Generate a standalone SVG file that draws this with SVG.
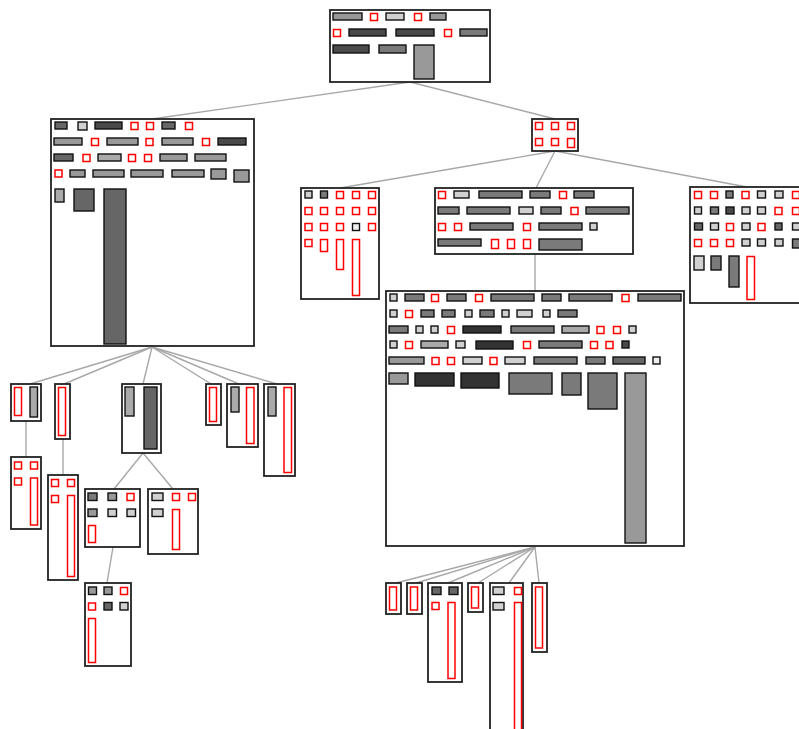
<svg xmlns="http://www.w3.org/2000/svg" width="799" height="729" viewBox="0 0 799 729">
<style>
.box{fill:#fff;stroke:#222;stroke-width:1.8}
.r{fill:#fff;stroke:#f00;stroke-width:1.5}
rect.i{stroke:#111;stroke-width:1.4}
.c line{stroke:#a8a8a8;stroke-width:1.4}
.l{fill:#d0d0d0}.e{fill:#eee}.ml{fill:#aaa}.g{fill:#999}.m{fill:#7a7a7a}.md{fill:#666}.d{fill:#4a4a4a}.dd{fill:#333}
</style>
<rect width="799" height="729" fill="#fff"/>
<g id="connectors" class="c">
<line x1="410" y1="82" x2="152" y2="119"/>
<line x1="410" y1="82" x2="555" y2="119"/>
<line x1="555" y1="151" x2="340" y2="188"/>
<line x1="555" y1="151" x2="536" y2="188"/>
<line x1="555" y1="151" x2="747" y2="187"/>
<line x1="535" y1="254" x2="535" y2="291"/>
<line x1="152" y1="347" x2="30" y2="384"/>
<line x1="152" y1="347" x2="64" y2="384"/>
<line x1="152" y1="347" x2="143" y2="384"/>
<line x1="152" y1="347" x2="211" y2="384"/>
<line x1="152" y1="347" x2="239" y2="384"/>
<line x1="152" y1="347" x2="277" y2="384"/>
<line x1="26" y1="421" x2="26" y2="457"/>
<line x1="63" y1="439" x2="63" y2="475"/>
<line x1="143" y1="453" x2="114" y2="489"/>
<line x1="143" y1="453" x2="173" y2="489"/>
<line x1="113" y1="547" x2="107" y2="583"/>
<line x1="535" y1="547" x2="396" y2="583"/>
<line x1="535" y1="547" x2="416" y2="583"/>
<line x1="535" y1="547" x2="448" y2="583"/>
<line x1="535" y1="547" x2="478" y2="583"/>
<line x1="535" y1="547" x2="509" y2="583"/>
<line x1="535" y1="547" x2="539" y2="583"/>
</g>
<g id="n0">
<rect class="box" x="330" y="10" width="160" height="72"/>
<rect class="i g" x="333" y="13" width="29" height="7"/>
<rect class="r" x="370.5" y="13.5" width="7" height="7"/>
<rect class="i l" x="386" y="13" width="18" height="7"/>
<rect class="r" x="414.5" y="13.5" width="7" height="7"/>
<rect class="i g" x="430" y="13" width="16" height="7"/>
<rect class="r" x="333.5" y="29.5" width="7" height="7"/>
<rect class="i d" x="349" y="29" width="37" height="7"/>
<rect class="i d" x="396" y="29" width="38" height="7"/>
<rect class="r" x="444.5" y="29.5" width="7" height="7"/>
<rect class="i m" x="460" y="29" width="27" height="7"/>
<rect class="i d" x="333" y="45" width="36" height="8"/>
<rect class="i m" x="379" y="45" width="27" height="8"/>
<rect class="i g" x="414" y="45" width="20" height="34"/>
</g>
<g id="n1">
<rect class="box" x="51" y="119" width="203" height="227"/>
<rect class="i md" x="55" y="122" width="12" height="7"/>
<rect class="i l" x="78" y="122" width="9" height="8"/>
<rect class="i d" x="95" y="122" width="27" height="7"/>
<rect class="r" x="131" y="122.5" width="7" height="7"/>
<rect class="r" x="146.5" y="122.5" width="7" height="7"/>
<rect class="i md" x="162" y="122" width="13" height="7"/>
<rect class="r" x="185.5" y="122.5" width="7" height="7"/>
<rect class="i g" x="54" y="138" width="28" height="7"/>
<rect class="r" x="91.5" y="138.5" width="7" height="7"/>
<rect class="i g" x="107" y="138" width="31" height="7"/>
<rect class="r" x="146" y="138.5" width="7" height="7"/>
<rect class="i g" x="162" y="138" width="31" height="7"/>
<rect class="r" x="202.5" y="138.5" width="7" height="7"/>
<rect class="i d" x="218" y="138" width="28" height="7"/>
<rect class="i md" x="54" y="154" width="19" height="7"/>
<rect class="r" x="83" y="154.5" width="7" height="7"/>
<rect class="i ml" x="98" y="154" width="23" height="7"/>
<rect class="r" x="128.5" y="154.5" width="7" height="7"/>
<rect class="r" x="144.5" y="154.5" width="7" height="7"/>
<rect class="i g" x="160" y="154" width="27" height="7"/>
<rect class="i g" x="195" y="154" width="31" height="7"/>
<rect class="r" x="55" y="170" width="7" height="7"/>
<rect class="i g" x="70" y="170" width="15" height="7"/>
<rect class="i g" x="93" y="170" width="31" height="7"/>
<rect class="i g" x="131" y="170" width="32" height="7"/>
<rect class="i g" x="172" y="170" width="32" height="7"/>
<rect class="i g" x="211" y="169" width="15" height="10"/>
<rect class="i g" x="234" y="170" width="15" height="12"/>
<rect class="i ml" x="55" y="189" width="9" height="13"/>
<rect class="i md" x="74" y="189" width="20" height="22"/>
<rect class="i md" x="104" y="189" width="22" height="155"/>
</g>
<g id="n2">
<rect class="box" x="532" y="119" width="46" height="32"/>
<rect class="r" x="535.5" y="122.5" width="7" height="7"/>
<rect class="r" x="551.5" y="122.5" width="7" height="7"/>
<rect class="r" x="567.5" y="122.5" width="7" height="7"/>
<rect class="r" x="535.5" y="138.5" width="7" height="7"/>
<rect class="r" x="551.5" y="138.5" width="7" height="7"/>
<rect class="r" x="567.5" y="138.5" width="7" height="9"/>
</g>
<g id="n3">
<rect class="box" x="301" y="188" width="78" height="111"/>
<rect class="i l" x="305" y="191" width="7" height="7"/>
<rect class="i m" x="320.5" y="191" width="7" height="7"/>
<rect class="r" x="336.5" y="191.5" width="7" height="7"/>
<rect class="r" x="352.5" y="191.5" width="7" height="7"/>
<rect class="r" x="368.5" y="191.5" width="7" height="7"/>
<rect class="r" x="305" y="207.5" width="7" height="7"/>
<rect class="r" x="320.5" y="207.5" width="7" height="7"/>
<rect class="r" x="336.5" y="207.5" width="7" height="7"/>
<rect class="r" x="352.5" y="207.5" width="7" height="7"/>
<rect class="r" x="368.5" y="207.5" width="7" height="7"/>
<rect class="r" x="305" y="223.5" width="7" height="7"/>
<rect class="r" x="320.5" y="223.5" width="7" height="7"/>
<rect class="r" x="336.5" y="223.5" width="7" height="7"/>
<rect class="i e" x="352.5" y="223.5" width="7" height="7"/>
<rect class="r" x="368.5" y="223.5" width="7" height="7"/>
<rect class="r" x="305" y="239.5" width="7" height="7"/>
<rect class="r" x="320.5" y="239.5" width="7" height="12"/>
<rect class="r" x="336.5" y="239.5" width="7" height="30"/>
<rect class="r" x="352.5" y="239.5" width="7" height="56"/>
</g>
<g id="n4">
<rect class="box" x="435" y="188" width="198" height="66"/>
<rect class="r" x="438.5" y="191.5" width="7" height="7"/>
<rect class="i l" x="454" y="191" width="15" height="7"/>
<rect class="i m" x="479" y="191" width="43" height="7"/>
<rect class="i m" x="530" y="191" width="20" height="7"/>
<rect class="r" x="559.5" y="191.5" width="7" height="7"/>
<rect class="i m" x="574" y="191" width="20" height="7"/>
<rect class="i m" x="438" y="207" width="21" height="7"/>
<rect class="i m" x="467" y="207" width="43" height="7"/>
<rect class="i l" x="519" y="207" width="14" height="7"/>
<rect class="i m" x="541" y="207" width="20" height="7"/>
<rect class="r" x="571" y="207.5" width="7" height="7"/>
<rect class="i m" x="586" y="207" width="43" height="7"/>
<rect class="r" x="438.5" y="223.5" width="7" height="7"/>
<rect class="r" x="454.5" y="223.5" width="7" height="7"/>
<rect class="i m" x="470" y="223" width="43" height="7"/>
<rect class="r" x="523.5" y="223.5" width="7" height="7"/>
<rect class="i m" x="539" y="223" width="43" height="7"/>
<rect class="i l" x="590" y="223" width="7" height="7"/>
<rect class="i m" x="438" y="239" width="43" height="7"/>
<rect class="r" x="491.5" y="239.5" width="7" height="9"/>
<rect class="r" x="507.5" y="239.5" width="7" height="9"/>
<rect class="r" x="523.5" y="239.5" width="7" height="9"/>
<rect class="i m" x="539" y="239" width="43" height="11"/>
</g>
<g id="n5">
<rect class="box" x="690" y="187" width="114" height="116"/>
<rect class="r" x="694.5" y="191.5" width="7" height="7"/>
<rect class="r" x="710.5" y="191.5" width="7" height="7"/>
<rect class="i m" x="726" y="191" width="7" height="7"/>
<rect class="r" x="742" y="191.5" width="7" height="7"/>
<rect class="i l" x="757.5" y="191" width="8" height="7"/>
<rect class="i l" x="775" y="191" width="8" height="7"/>
<rect class="r" x="792.5" y="191.5" width="7" height="7"/>
<rect class="i l" x="694.5" y="207" width="7" height="7"/>
<rect class="i m" x="710.5" y="207" width="8" height="7"/>
<rect class="i d" x="726" y="207" width="8" height="7"/>
<rect class="i l" x="742" y="207" width="8" height="7"/>
<rect class="i l" x="757.5" y="207" width="8" height="7"/>
<rect class="r" x="775" y="207.5" width="7" height="7"/>
<rect class="r" x="792.5" y="207.5" width="7" height="7"/>
<rect class="i md" x="694.5" y="223" width="8" height="7"/>
<rect class="i l" x="710.5" y="223" width="8" height="7"/>
<rect class="r" x="726.5" y="223.5" width="7" height="7"/>
<rect class="i l" x="742" y="223" width="8" height="7"/>
<rect class="r" x="758" y="223.5" width="7" height="7"/>
<rect class="i md" x="775" y="223" width="7" height="7"/>
<rect class="i l" x="792.5" y="223" width="8" height="7"/>
<rect class="r" x="694.5" y="239.5" width="7" height="7"/>
<rect class="r" x="710.5" y="239.5" width="7" height="7"/>
<rect class="r" x="726.5" y="239.5" width="7" height="7"/>
<rect class="i l" x="742" y="239" width="8" height="7"/>
<rect class="i l" x="757.5" y="239" width="8" height="7"/>
<rect class="i l" x="775" y="239" width="8" height="7"/>
<rect class="i m" x="792.5" y="239" width="8" height="9"/>
<rect class="i l" x="694" y="256" width="10" height="14"/>
<rect class="i m" x="711" y="256" width="10" height="14"/>
<rect class="i m" x="729" y="256" width="10" height="31"/>
<rect class="r" x="747" y="256.5" width="7.5" height="43"/>
</g>
<g id="n6">
<rect class="box" x="386" y="291" width="298" height="255"/>
<rect class="i l" x="390" y="294" width="7" height="7"/>
<rect class="i m" x="405" y="294" width="19" height="7"/>
<rect class="r" x="431.5" y="294.5" width="7" height="7"/>
<rect class="i m" x="447" y="294" width="19" height="7"/>
<rect class="r" x="475.5" y="294.5" width="7" height="7"/>
<rect class="i m" x="491" y="294" width="43" height="7"/>
<rect class="i m" x="542" y="294" width="19" height="7"/>
<rect class="i m" x="569" y="294" width="43" height="7"/>
<rect class="r" x="622" y="294.5" width="7" height="7"/>
<rect class="i m" x="638" y="294" width="43" height="7"/>
<rect class="i l" x="390" y="310" width="7" height="7"/>
<rect class="r" x="405.5" y="310.5" width="7" height="7"/>
<rect class="i m" x="421" y="310" width="13" height="7"/>
<rect class="i m" x="442" y="310" width="13" height="7"/>
<rect class="i l" x="465" y="310" width="7" height="7"/>
<rect class="i m" x="480" y="310" width="14" height="7"/>
<rect class="i l" x="502" y="310" width="7" height="7"/>
<rect class="i l" x="517" y="310" width="15" height="7"/>
<rect class="i l" x="543" y="310" width="7" height="7"/>
<rect class="i m" x="558" y="310" width="19" height="7"/>
<rect class="i m" x="389" y="326" width="19" height="7"/>
<rect class="i l" x="416" y="326" width="7" height="7"/>
<rect class="i l" x="431" y="326" width="7" height="7"/>
<rect class="r" x="447.5" y="326.5" width="7" height="7"/>
<rect class="i dd" x="463" y="326" width="38" height="7"/>
<rect class="i m" x="511" y="326" width="43" height="7"/>
<rect class="i ml" x="562" y="326" width="27" height="7"/>
<rect class="r" x="597" y="326.5" width="7" height="7"/>
<rect class="r" x="613.5" y="326.5" width="7" height="7"/>
<rect class="i l" x="629" y="326" width="7" height="7"/>
<rect class="i l" x="390" y="341" width="7" height="7"/>
<rect class="r" x="405.5" y="341.5" width="7" height="7"/>
<rect class="i ml" x="421" y="341" width="27" height="7"/>
<rect class="i l" x="456" y="341" width="9" height="7"/>
<rect class="i dd" x="476" y="341" width="37" height="8"/>
<rect class="r" x="523.5" y="341.5" width="7" height="7"/>
<rect class="i m" x="539" y="341" width="43" height="7"/>
<rect class="r" x="590.5" y="341.5" width="7" height="7"/>
<rect class="r" x="606" y="341.5" width="7" height="7"/>
<rect class="i d" x="622" y="341" width="7" height="7"/>
<rect class="i g" x="389" y="357" width="35" height="7"/>
<rect class="r" x="432" y="357.5" width="7" height="7"/>
<rect class="r" x="447.5" y="357.5" width="7" height="7"/>
<rect class="i l" x="463" y="357" width="19" height="7"/>
<rect class="r" x="490" y="357.5" width="7" height="7"/>
<rect class="i l" x="505" y="357" width="20" height="7"/>
<rect class="i m" x="534" y="357" width="43" height="7"/>
<rect class="i m" x="586" y="357" width="19" height="7"/>
<rect class="i md" x="613" y="357" width="32" height="7"/>
<rect class="i e" x="653" y="357" width="7" height="7"/>
<rect class="i g" x="389" y="373" width="19" height="11"/>
<rect class="i dd" x="415" y="373" width="39" height="13"/>
<rect class="i dd" x="461" y="373" width="38" height="15"/>
<rect class="i m" x="509" y="373" width="43" height="21"/>
<rect class="i m" x="562" y="373" width="19" height="22"/>
<rect class="i m" x="588" y="373" width="29" height="36"/>
<rect class="i g" x="625" y="373" width="21" height="170"/>
</g>
<g id="nA">
<rect class="box" x="11" y="384" width="30" height="37"/>
<rect class="r" x="14.5" y="387.5" width="7" height="28"/>
<rect class="i ml" x="30" y="387" width="7.5" height="30"/>
</g>
<g id="nB">
<rect class="box" x="55" y="384" width="15" height="55"/>
<rect class="r" x="58.5" y="387.5" width="7" height="48"/>
</g>
<g id="nC">
<rect class="box" x="122" y="384" width="39" height="69"/>
<rect class="i ml" x="125" y="387" width="9" height="29"/>
<rect class="i md" x="144" y="387" width="13" height="62"/>
</g>
<g id="nD">
<rect class="box" x="206" y="384" width="15" height="41"/>
<rect class="r" x="209.5" y="387.5" width="7" height="34"/>
</g>
<g id="nE">
<rect class="box" x="227" y="384" width="31" height="63"/>
<rect class="i ml" x="231" y="387" width="8" height="25"/>
<rect class="r" x="246.5" y="387.5" width="7.5" height="56"/>
</g>
<g id="nF">
<rect class="box" x="264" y="384" width="31" height="92"/>
<rect class="i ml" x="268" y="387" width="8" height="29"/>
<rect class="r" x="284" y="387.5" width="7.5" height="85"/>
</g>
<g id="nA2">
<rect class="box" x="11" y="457" width="30" height="72"/>
<rect class="r" x="14.5" y="462" width="7" height="7"/>
<rect class="r" x="30.5" y="462" width="7" height="7"/>
<rect class="r" x="14.5" y="478" width="7" height="7"/>
<rect class="r" x="30.5" y="478" width="7" height="47"/>
</g>
<g id="nB2">
<rect class="box" x="48" y="475" width="30" height="105"/>
<rect class="r" x="51.5" y="479.5" width="7" height="7"/>
<rect class="r" x="67.5" y="479.5" width="7" height="7"/>
<rect class="r" x="51.5" y="495.5" width="7" height="7"/>
<rect class="r" x="67.5" y="495.5" width="7" height="81"/>
</g>
<g id="nC2">
<rect class="box" x="85" y="489" width="55" height="58"/>
<rect class="i m" x="88" y="493" width="9" height="7.5"/>
<rect class="i g" x="108" y="493" width="8.5" height="7.5"/>
<rect class="r" x="127" y="493.5" width="7" height="7"/>
<rect class="i g" x="88" y="509" width="9" height="7.5"/>
<rect class="i l" x="108" y="509" width="8.5" height="7.5"/>
<rect class="i l" x="127" y="509" width="8.5" height="7.5"/>
<rect class="r" x="88.5" y="525.5" width="7" height="17"/>
</g>
<g id="nC3">
<rect class="box" x="148" y="489" width="50" height="65"/>
<rect class="i l" x="152" y="493" width="11" height="7.5"/>
<rect class="r" x="172.5" y="493.5" width="7" height="7"/>
<rect class="r" x="188.5" y="493.5" width="7" height="7"/>
<rect class="i l" x="152" y="509" width="11" height="7.5"/>
<rect class="r" x="172.5" y="509.5" width="7" height="40"/>
</g>
<g id="nC4">
<rect class="box" x="85" y="583" width="46" height="83"/>
<rect class="i g" x="88.5" y="587" width="8" height="7.5"/>
<rect class="i g" x="104" y="587" width="8" height="7.5"/>
<rect class="r" x="120.5" y="587.5" width="7" height="7"/>
<rect class="r" x="88.5" y="603" width="7" height="7"/>
<rect class="i md" x="104" y="602.5" width="8" height="7.5"/>
<rect class="i l" x="120" y="602.5" width="8" height="7.5"/>
<rect class="r" x="88.5" y="618.5" width="7" height="44"/>
</g>
<g id="nG1">
<rect class="box" x="386" y="583" width="15" height="31"/>
<rect class="r" x="389.5" y="587" width="7" height="23"/>
</g>
<g id="nG2">
<rect class="box" x="407" y="583" width="15" height="31"/>
<rect class="r" x="410.5" y="587" width="7" height="23"/>
</g>
<g id="nG3">
<rect class="box" x="428" y="583" width="34" height="99"/>
<rect class="i md" x="432" y="587" width="9" height="7.5"/>
<rect class="i md" x="449" y="587" width="9" height="7.5"/>
<rect class="r" x="432" y="602.5" width="7" height="7"/>
<rect class="r" x="448" y="602.5" width="7" height="76"/>
</g>
<g id="nG4">
<rect class="box" x="468" y="583" width="15" height="29"/>
<rect class="r" x="471.5" y="587" width="7" height="21"/>
</g>
<g id="nG5">
<rect class="box" x="490" y="583" width="33" height="150"/>
<rect class="i l" x="493" y="587" width="11" height="7.5"/>
<rect class="r" x="514.5" y="587.5" width="7" height="7"/>
<rect class="i l" x="493" y="602.5" width="11" height="7.5"/>
<rect class="r" x="514.5" y="602.5" width="7" height="130"/>
</g>
<g id="nG6">
<rect class="box" x="532" y="583" width="15" height="69"/>
<rect class="r" x="535.5" y="587" width="7" height="61"/>
</g>
</svg>
